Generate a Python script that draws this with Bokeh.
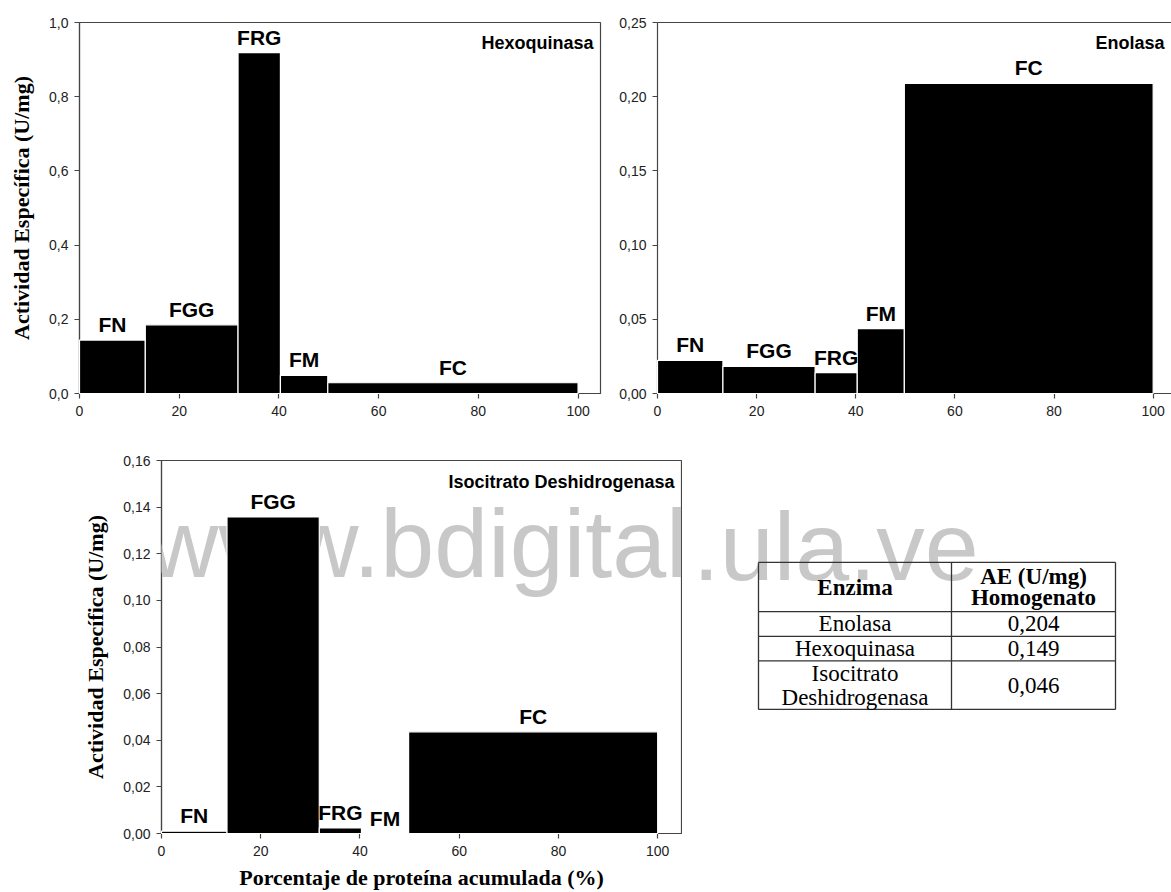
from bokeh.plotting import figure
from bokeh.layouts import row, column
from bokeh.models import Range1d, FixedTicker, CustomJSTickFormatter, Label, LinearAxis
from bokeh.embed import file_html
from bokeh.resources import INLINE
from bokeh.core.properties import value

# ---------------- data ----------------
fractions = ["FN", "FGG", "FRG", "FM", "FC"]
protein_edges = [0.0, 13.2, 31.8, 40.3, 49.8, 100.0]   # % proteína acumulada
hexoquinasa = [0.144, 0.185, 0.919, 0.049, 0.029]
enolasa = [0.0223, 0.0183, 0.0140, 0.0437, 0.209]
isocitrato = [0.001, 0.1358, 0.0024, 0.0, 0.0436]

x_ticks = [0, 20, 40, 60, 80, 100]
hexo_yticks = [0.0, 0.2, 0.4, 0.6, 0.8, 1.0]
eno_yticks = [0.0, 0.05, 0.10, 0.15, 0.20, 0.25]
idh_yticks = [0.0, 0.02, 0.04, 0.06, 0.08, 0.10, 0.12, 0.14, 0.16]

table_header = ["Enzima", "AE (U/mg)\nHomogenato"]
table_enzymes = ["Enolasa", "Hexoquinasa", "Isocitrato\nDeshidrogenasa"]
table_ae = [0.204, 0.149, 0.046]

watermark_left = "www.bdigital"
watermark_right = ".ula.ve"

# ---------------- styles ----------------
SANS = "Liberation Sans"
SERIF = "Liberation Serif"
AXIS_COL = "#454545"
TICK_FONT = "14px"
LABEL_FONT = "21px"
TITLE_FONT = "18px"
AXLAB_FONT = "22px"
TABLE_FONT = "23px"
WM_COLOR = "#c8c8c8"
WM_PX = 97
WM_SIZE = f"{WM_PX}px"
WM_LEFT_EM = 5.612   # advance width (em) of "www.bdigital" in Liberation Sans (Arial metrics)
ORIGIN = 0           # page origin of the layout
SEAM = 682           # page x where the bottom row is split (just right of panel 3 frame)
WM_X_PAGE = 148      # watermark start
WM_Y_PAGE = 543      # page baseline of watermark
TOTAL_W = 1171


def comma_fmt(dec):
    return CustomJSTickFormatter(args=dict(d=dec),
                                 code="return tick.toFixed(d).replace('.', ',');")


def style_axis(ax):
    ax.axis_line_color = AXIS_COL
    ax.axis_line_width = 1.2
    ax.major_tick_line_color = AXIS_COL
    ax.major_tick_line_width = 1.2
    ax.major_tick_in = 0
    ax.major_tick_out = 5
    ax.minor_tick_line_color = None
    ax.major_label_text_font = SANS
    ax.major_label_text_font_size = TICK_FONT
    ax.major_label_text_color = "#222222"


def make_panel(vals, yticks, ymax, dec, title, width, height,
               mbl, mbr, mbt, mbb, xmax, ylabel=None, xlabel=None, open_right=False,
               wm_page=None):
    p = figure(width=width, height=height, x_range=Range1d(0, xmax), y_range=Range1d(0, ymax),
               output_backend="svg", toolbar_location=None,
               min_border_left=mbl, min_border_right=mbr, min_border_top=mbt, min_border_bottom=mbb)
    p.grid.visible = False
    p.background_fill_color = "white"
    p.border_fill_color = "white"
    frame_w = width - mbl - mbr
    frame_h = height - mbt - mbb
    ypx = ymax / frame_h
    xpx = xmax / frame_w

    if wm_page is not None:
        # watermark (page position -> data coords); bars/labels are drawn above it
        page_left, page_top, wx, wy = wm_page
        frame_left_page = page_left + mbl
        frame_bottom_page = page_top + mbt + frame_h
        p.add_layout(Label(x=(wx - frame_left_page) * xpx, y=(frame_bottom_page - wy) * ypx,
                           text=watermark_left, text_font=SANS, text_font_size=WM_SIZE,
                           text_color=WM_COLOR, text_baseline="alphabetic", text_align="left"))

    lefts = protein_edges[:-1]
    rights = protein_edges[1:]
    p.quad(left=lefts, right=rights, bottom=0, top=vals,
           fill_color="black", line_color="white", line_width=1.2, level="overlay")
    centers = [(a + b) / 2 for a, b in zip(lefts, rights)]
    p.text(x=centers, y=[v + 4 * ypx for v in vals], text=fractions,
           text_font=value(SANS), text_font_style="bold", text_font_size=LABEL_FONT,
           text_align="center", text_baseline="bottom", text_color="black", level="overlay")
    p.add_layout(Label(x=xmax - 7 * xpx, y=ymax - 21 * ypx, text=title,
                       text_font=SANS, text_font_style="bold", text_font_size=TITLE_FONT,
                       text_align="right", text_baseline="alphabetic", text_color="black",
                       level="overlay"))

    xax = p.below[0]
    yax = p.left[0]
    xax.ticker = FixedTicker(ticks=x_ticks)
    yax.ticker = FixedTicker(ticks=yticks)
    yax.formatter = comma_fmt(dec)
    style_axis(xax)
    style_axis(yax)
    xax.major_label_standoff = 7
    yax.major_label_standoff = 6
    if ylabel:
        yax.axis_label = ylabel
        yax.axis_label_text_font = SERIF
        yax.axis_label_text_font_style = "bold"
        yax.axis_label_text_font_size = AXLAB_FONT
        yax.axis_label_text_color = "black"
        yax.axis_label_standoff = 12
    if xlabel:
        xax.axis_label = xlabel
        xax.axis_label_text_font = SERIF
        xax.axis_label_text_font_style = "bold"
        xax.axis_label_text_font_size = AXLAB_FONT
        xax.axis_label_text_color = "black"
        xax.axis_label_standoff = 6

    if open_right:
        p.outline_line_color = None
        top = LinearAxis(ticker=FixedTicker(ticks=[]), major_label_text_font_size="0px",
                         major_tick_in=0, major_tick_out=0, minor_tick_line_color=None,
                         major_tick_line_color=None,
                         axis_line_color=AXIS_COL, axis_line_width=1.2, major_label_standoff=0)
        p.add_layout(top, "above")
    else:
        p.outline_line_color = AXIS_COL
        p.outline_line_width = 1.2
    return p


YLAB = "Actividad Específica (U/mg)"
XLAB = "Porcentaje de proteína acumulada (%)"

# top row: page y 0..438
TOP_H = 438
SPLIT = 612
p1 = make_panel(hexoquinasa, hexo_yticks, 1.0, 1, "Hexoquinasa", SPLIT, TOP_H,
                79, 12, 19, 45, 104.5, ylabel=YLAB)
p2 = make_panel(enolasa, eno_yticks, 0.25, 2, "Enolasa", TOTAL_W - SPLIT, TOP_H,
                45, 0, 22, 41, 103.7, open_right=True)

# bottom row: page y 438..892
B_TOP = TOP_H
B_H = 454
p3 = make_panel(isocitrato, idh_yticks, 0.16, 2, "Isocitrato Deshidrogenasa", SEAM, B_H,
                161, SEAM - 681, 22, 59, 104.8, ylabel=YLAB, xlabel=XLAB,
                wm_page=(ORIGIN, B_TOP, WM_X_PAGE, WM_Y_PAGE))

# table panel: page x SEAM..1171, page y 438..892 (data coords == page coords)
p4 = figure(width=TOTAL_W - SEAM, height=B_H, x_range=Range1d(SEAM, TOTAL_W),
            y_range=Range1d(B_TOP + B_H, B_TOP),
            output_backend="svg", toolbar_location=None, x_axis_type=None, y_axis_type=None,
            min_border_left=0, min_border_right=0, min_border_top=0, min_border_bottom=0)
p4.grid.visible = False
p4.outline_line_color = None
p4.background_fill_color = "white"
p4.border_fill_color = "white"
# watermark, second part (continues right after "www.bdigital")
p4.add_layout(Label(x=WM_X_PAGE + WM_LEFT_EM * WM_PX, y=WM_Y_PAGE, text=watermark_right,
                    text_font=SANS, text_font_size=WM_SIZE,
                    text_color=WM_COLOR, text_baseline="alphabetic", text_align="left",
                    level="underlay"))

T_L, T_M, T_R = 758, 951, 1115
row_lines = [562, 622, 652, 682, 741]
p4.segment(x0=[T_L] * len(row_lines), y0=row_lines, x1=[T_R] * len(row_lines), y1=row_lines,
           line_color="#333333", line_width=1.3)
p4.segment(x0=[T_L, T_M, T_R], y0=[row_lines[0]] * 3, x1=[T_L, T_M, T_R], y1=[row_lines[-1]] * 3,
           line_color="#333333", line_width=1.3)

c1 = (T_L + T_M) / 2
c2 = (T_M + T_R) / 2
# header
hx, hy, ht = [], [], []
for col_x, txt in zip([c1, c2], table_header):
    lines = txt.split("\n")
    mid = (row_lines[0] + row_lines[1]) / 2
    for i, ln in enumerate(lines):
        hx.append(col_x)
        hy.append(mid + (i - (len(lines) - 1) / 2) * 25)
        ht.append(ln)
p4.text(x=hx, y=hy, text=ht, text_font=value(SERIF), text_font_style="bold", text_font_size=TABLE_FONT,
        text_align="center", text_baseline="middle", text_color="black")
# body
bx, by, bt = [], [], []
for r, (enz, ae) in enumerate(zip(table_enzymes, table_ae)):
    mid = (row_lines[r + 1] + row_lines[r + 2]) / 2
    lines = enz.split("\n")
    for i, ln in enumerate(lines):
        bx.append(c1)
        by.append(mid + (i - (len(lines) - 1) / 2) * 29)
        bt.append(ln)
    bx.append(c2)
    by.append(mid)
    bt.append(f"{ae:.3f}".replace(".", ","))
p4.text(x=bx, y=by, text=bt, text_font=value(SERIF), text_font_size=TABLE_FONT,
        text_align="center", text_baseline="middle", text_color="black")

layout = column(row(p1, p2), row(p3, p4))
open("out.html", "w").write(file_html(layout, INLINE))
